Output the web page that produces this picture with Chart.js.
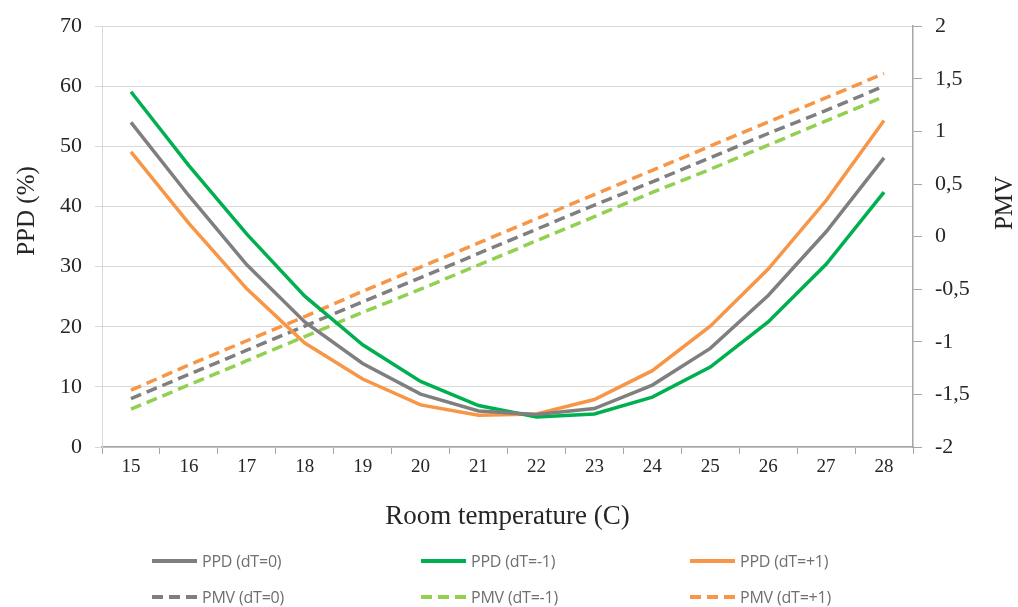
<!DOCTYPE html>
<html>
<head>
<meta charset="utf-8">
<script src="https://cdn.jsdelivr.net/npm/chart.js@4/dist/chart.umd.min.js"></script>
<style>
    html, body { margin: 0; padding: 0; background: #fff; }
    #wrap { position: relative; width: 1018px; height: 607px; }
    #chart { position: absolute; left: 0; top: 0; }
    .legend-item {
        position: absolute;
        display: flex;
        align-items: center;
        font-family: "Open Sans", "Liberation Sans", sans-serif;
        font-size: 16px;
        letter-spacing: -0.2px;
        color: #6f6f6f;
        white-space: nowrap;
    }
    .legend-item svg { margin-right: 5px; }
</style>
</head>
<body>
<div id="wrap">
    <canvas id="chart" width="1018" height="607"></canvas>
    <div id="legend"></div>
</div>
<script>
// ============================================
// DATA
// ============================================

const temps = ['15', '16', '17', '18', '19', '20', '21', '22', '23', '24', '25', '26', '27', '28'];

// PPD (%) - left axis
const ppdZero  = [54.0, 41.8, 30.3, 20.8, 13.9, 8.8, 6.0, 5.4, 6.4, 10.3, 16.4, 25.2, 35.8, 48.1];
const ppdMinus = [59.1, 46.8, 35.4, 25.1, 17.0, 10.9, 6.9, 5.0, 5.5, 8.3, 13.3, 20.8, 30.4, 42.4];
const ppdPlus  = [49.1, 37.2, 26.3, 17.3, 11.3, 7.0, 5.3, 5.5, 7.9, 12.7, 20.1, 29.6, 41.0, 54.3];

// PMV - right axis
const pmvZero  = [-1.54, -1.31, -1.08, -0.85, -0.62, -0.39, -0.16, 0.07, 0.30, 0.52, 0.75, 0.98, 1.20, 1.43];
const pmvMinus = [-1.64, -1.41, -1.18, -0.95, -0.72, -0.50, -0.27, -0.04, 0.19, 0.42, 0.64, 0.87, 1.10, 1.33];
const pmvPlus  = [-1.46, -1.22, -0.99, -0.76, -0.52, -0.29, -0.06, 0.17, 0.40, 0.63, 0.86, 1.09, 1.32, 1.55];

const GRAY = '#7f7f7f';
const GREEN = '#00b050';
const ORANGE = '#f79646';
const LIGHT_GREEN = '#92d050';
const SERIF = '"Liberation Serif", "DejaVu Serif", serif';
const TEXT = '#262626';
const DASH = [11, 6];

const seriesList = [
    { label: 'PPD (dT=0)',  data: ppdZero,  color: GRAY,        axis: 'y',  dashed: false },
    { label: 'PPD (dT=-1)', data: ppdMinus, color: GREEN,       axis: 'y',  dashed: false },
    { label: 'PPD (dT=+1)', data: ppdPlus,  color: ORANGE,      axis: 'y',  dashed: false },
    { label: 'PMV (dT=0)',  data: pmvZero,  color: GRAY,        axis: 'y1', dashed: true },
    { label: 'PMV (dT=-1)', data: pmvMinus, color: LIGHT_GREEN, axis: 'y1', dashed: true },
    { label: 'PMV (dT=+1)', data: pmvPlus,  color: ORANGE,      axis: 'y1', dashed: true }
];

// Both vertical axis titles read bottom-to-top and sit a bit above centre
const axisTitles = {
    id: 'axisTitles',
    afterDraw(chart) {
        const c = chart.ctx;
        const items = [
            { text: 'PPD (%)', x: 27, y: 211 },
            { text: 'PMV', x: 1005, y: 203 }
        ];
        c.save();
        c.fillStyle = TEXT;
        c.font = '25px ' + SERIF;
        c.textAlign = 'center';
        c.textBaseline = 'middle';
        items.forEach(t => {
            c.save();
            c.translate(t.x, t.y);
            c.rotate(-Math.PI / 2);
            c.fillText(t.text, 0, 0);
            c.restore();
        });
        c.restore();
    }
};

// ============================================
// CHART
// ============================================

const ctx = document.getElementById('chart').getContext('2d');
new Chart(ctx, {
    type: 'line',
    data: {
        labels: temps,
        datasets: seriesList.map(s => ({
            label: s.label,
            data: s.data,
            yAxisID: s.axis,
            borderColor: s.color,
            backgroundColor: s.color,
            borderWidth: 3.5,
            borderDash: s.dashed ? DASH : [],
            pointRadius: 0,
            tension: 0,
            fill: false
        }))
    },
    options: {
        responsive: false,
        animation: false,
        layout: { padding: { left: 8, right: 0, top: 21, bottom: 74 } },
        plugins: {
            legend: { display: false },
            tooltip: { enabled: false }
        },
        scales: {
            x: {
                type: 'category',
                offset: true,
                grid: { offset: true, drawOnChartArea: false, tickLength: 7, color: '#a6a6a6', lineWidth: 1 },
                border: { color: '#a6a6a6', width: 1.5 },
                ticks: { color: TEXT, font: { family: SERIF, size: 19 }, padding: 2, maxRotation: 0 },
                title: {
                    display: true,
                    text: 'Room temperature (C)',
                    color: TEXT,
                    font: { family: SERIF, size: 27 },
                    padding: { top: 0, bottom: 0 }
                },
                afterFit: scale => { scale.height = 86; }
            },
            y: {
                position: 'left',
                min: 0,
                max: 70,
                ticks: { stepSize: 10, color: TEXT, font: { family: SERIF, size: 22 }, padding: 13 },
                grid: { color: '#d9d9d9', tickLength: 7, lineWidth: 1 },
                border: { color: '#d9d9d9' },
                afterFit: scale => { scale.width = 94; }
            },
            y1: {
                position: 'right',
                min: -2,
                max: 2,
                ticks: {
                    stepSize: 0.5,
                    color: TEXT,
                    font: { family: SERIF, size: 22 },
                    padding: 13,
                    callback: v => String(v).replace('.', ',')
                },
                grid: { drawOnChartArea: false, tickLength: 9, color: '#a6a6a6' },
                border: { color: '#a6a6a6', width: 1.5 },
                afterFit: scale => { scale.width = 105; }
            }
        }
    },
    plugins: [axisTitles]
});

// ============================================
// LEGEND (3 columns x 2 rows)
// ============================================

const legendCols = [152, 421, 690];
const legendRows = [561, 597];
const legend = document.getElementById('legend');

seriesList.forEach((s, i) => {
    const col = i % 3;
    const row = Math.floor(i / 3);
    const item = document.createElement('div');
    item.className = 'legend-item';
    item.style.left = legendCols[col] + 'px';
    item.style.top = (legendRows[row] - 11) + 'px';
    item.style.height = '22px';
    const dash = s.dashed ? ` stroke-dasharray="${DASH.join(' ')}"` : '';
    item.innerHTML = `<svg width="45" height="6"><line x1="0" y1="3" x2="45" y2="3" stroke="${s.color}" stroke-width="4"${dash}/></svg><span>${s.label}</span>`;
    legend.appendChild(item);
});
</script>
</body>
</html>
